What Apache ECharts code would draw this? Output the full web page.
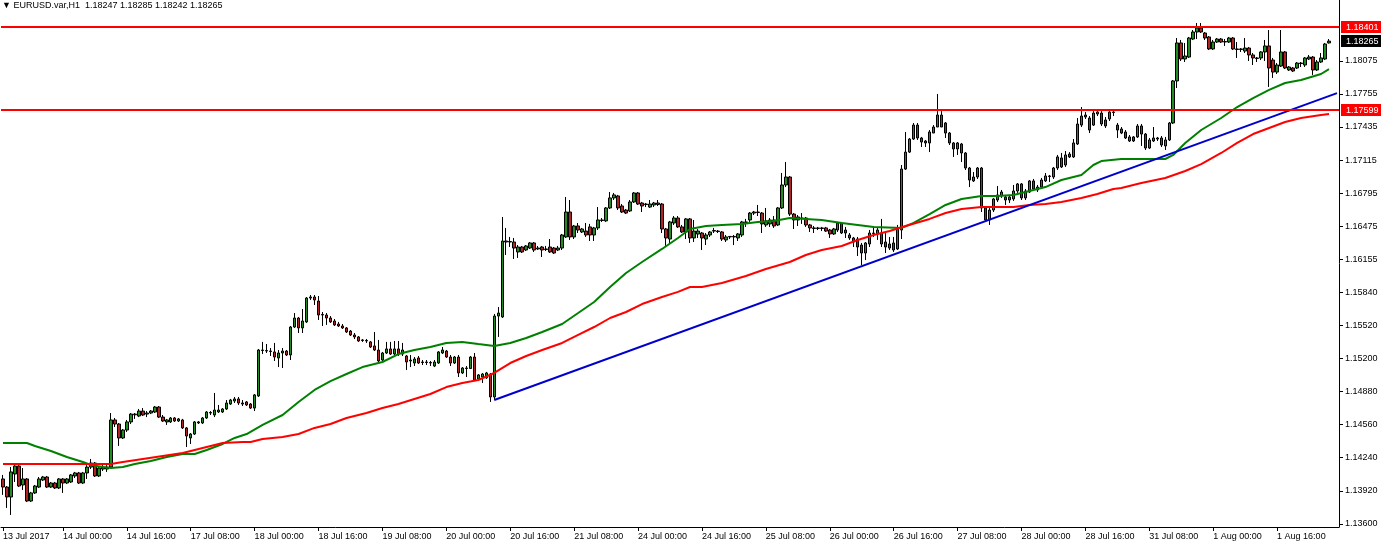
<!DOCTYPE html>
<html><head><meta charset="utf-8">
<script src="https://cdn.jsdelivr.net/npm/echarts@6/dist/echarts.min.js"></script>
<style>html,body{margin:0;padding:0;background:#fff}#c{width:1381px;height:545px}</style>
</head><body><div id="c"></div>
<script>
const headerText = '\u25BC EURUSD.var,H1  1.18247 1.18285 1.18242 1.18265';
// [open, close, low, high] per H1 bar, from 13 Jul 2017 09:00
const candles = [
[1.14035,1.13957,1.13881,1.14074],[1.13957,1.13861,1.13755,1.13967],[1.13861,1.14103,1.13687,1.14150],[1.14083,1.14160,1.14006,1.14170],
[1.14160,1.13967,1.13957,1.14170],[1.13977,1.14035,1.13929,1.14141],[1.14035,1.13822,1.13813,1.14044],[1.13822,1.13900,1.13813,1.13910],
[1.13900,1.13967,1.13890,1.13977],[1.13957,1.14035,1.13948,1.14054],[1.14025,1.14054,1.14015,1.14064],[1.14054,1.13957,1.13948,1.14064],
[1.13957,1.13996,1.13948,1.14006],[1.13996,1.13948,1.13938,1.14006],[1.13948,1.14035,1.13938,1.14044],[1.14035,1.13996,1.13900,1.14044],
[1.13996,1.14035,1.13986,1.14044],[1.14006,1.14074,1.13996,1.14083],[1.14064,1.14093,1.14044,1.14103],[1.14093,1.13996,1.13986,1.14103],
[1.13996,1.14093,1.13986,1.14103],[1.14093,1.14150,1.14035,1.14179],[1.14150,1.14189,1.14131,1.14228],[1.14189,1.14064,1.14054,1.14199],
[1.14064,1.14141,1.14054,1.14150],[1.14131,1.14150,1.14112,1.14170],[1.14131,1.14150,1.14103,1.14170],[1.14150,1.14605,1.14141,1.14672],
[1.14605,1.14566,1.14537,1.14624],[1.14566,1.14431,1.14354,1.14576],[1.14431,1.14508,1.14421,1.14518],[1.14508,1.14586,1.14489,1.14605],
[1.14586,1.14662,1.14566,1.14672],[1.14662,1.14655,1.14615,1.14672],[1.14643,1.14691,1.14633,1.14711],[1.14691,1.14653,1.14643,1.14720],
[1.14662,1.14672,1.14633,1.14691],[1.14672,1.14691,1.14662,1.14701],[1.14682,1.14730,1.14672,1.14740],[1.14730,1.14633,1.14624,1.14740],
[1.14633,1.14595,1.14586,1.14653],[1.14586,1.14605,1.14557,1.14615],[1.14586,1.14624,1.14576,1.14633],[1.14624,1.14595,1.14586,1.14633],
[1.14595,1.14615,1.14586,1.14624],[1.14605,1.14528,1.14518,1.14615],[1.14528,1.14450,1.14344,1.14537],[1.14431,1.14469,1.14373,1.14479],
[1.14469,1.14586,1.14460,1.14595],[1.14576,1.14586,1.14566,1.14595],[1.14576,1.14624,1.14566,1.14633],[1.14624,1.14682,1.14615,1.14691],
[1.14672,1.14677,1.14653,1.14691],[1.14653,1.14701,1.14633,1.14866],[1.14682,1.14701,1.14672,1.14750],[1.14682,1.14711,1.14672,1.14720],
[1.14711,1.14769,1.14701,1.14798],[1.14759,1.14798,1.14750,1.14808],[1.14788,1.14808,1.14769,1.14827],[1.14808,1.14769,1.14750,1.14827],
[1.14759,1.14769,1.14740,1.14798],[1.14779,1.14750,1.14740,1.14788],[1.14759,1.14720,1.14711,1.14769],[1.14720,1.14847,1.14691,1.14856],
[1.14837,1.15281,1.14827,1.15291],[1.15281,1.15276,1.15242,1.15359],[1.15276,1.15271,1.15252,1.15339],[1.15271,1.15266,1.15223,1.15300],
[1.15262,1.15213,1.15175,1.15349],[1.15204,1.15252,1.15116,1.15281],[1.15252,1.15271,1.15107,1.15300],[1.15271,1.15233,1.15223,1.15281],
[1.15233,1.15503,1.15184,1.15513],[1.15503,1.15590,1.15494,1.15638],[1.15590,1.15494,1.15445,1.15600],[1.15494,1.15561,1.15445,1.15677],
[1.15552,1.15783,1.15542,1.15793],[1.15783,1.15793,1.15764,1.15812],[1.15793,1.15764,1.15716,1.15812],[1.15754,1.15619,1.15571,1.15802],
[1.15619,1.15624,1.15513,1.15648],[1.15619,1.15590,1.15523,1.15638],[1.15590,1.15552,1.15542,1.15609],[1.15561,1.15523,1.15513,1.15580],
[1.15532,1.15513,1.15503,1.15552],[1.15513,1.15494,1.15484,1.15532],[1.15494,1.15455,1.15445,1.15503],[1.15464,1.15426,1.15416,1.15474],
[1.15426,1.15407,1.15387,1.15445],[1.15407,1.15368,1.15359,1.15416],[1.15378,1.15373,1.15359,1.15387],[1.15373,1.15368,1.15349,1.15387],
[1.15359,1.15310,1.15300,1.15368],[1.15320,1.15281,1.15271,1.15455],[1.15281,1.15175,1.15165,1.15378],[1.15184,1.15252,1.15165,1.15262],
[1.15252,1.15291,1.15242,1.15359],[1.15291,1.15242,1.15233,1.15359],[1.15242,1.15291,1.15223,1.15368],[1.15291,1.15242,1.15223,1.15368],
[1.15242,1.15281,1.15223,1.15349],[1.15223,1.15165,1.15088,1.15233],[1.15175,1.15184,1.15116,1.15233],[1.15155,1.15194,1.15126,1.15213],
[1.15204,1.15155,1.15146,1.15223],[1.15165,1.15160,1.15136,1.15184],[1.15160,1.15165,1.15136,1.15184],[1.15160,1.15155,1.15126,1.15175],
[1.15126,1.15165,1.15116,1.15184],[1.15155,1.15262,1.15146,1.15271],[1.15252,1.15281,1.15242,1.15310],[1.15271,1.15213,1.15204,1.15281],
[1.15213,1.15155,1.15126,1.15233],[1.15155,1.15213,1.15146,1.15223],[1.15213,1.15059,1.15020,1.15233],[1.15059,1.15107,1.15049,1.15116],
[1.15107,1.15102,1.15020,1.15126],[1.15102,1.15213,1.15097,1.15223],[1.15213,1.14991,1.14981,1.15252],[1.15001,1.15040,1.14991,1.15049],
[1.15020,1.15049,1.14962,1.15059],[1.15011,1.15059,1.15001,1.15069],[1.15049,1.14827,1.14779,1.15059],[1.14827,1.15609,1.14798,1.15629],
[1.15609,1.15638,1.15407,1.15696],[1.15600,1.16334,1.15590,1.16566],[1.16334,1.16324,1.16199,1.16460],[1.16324,1.16329,1.16276,1.16373],
[1.16324,1.16266,1.16160,1.16363],[1.16228,1.16276,1.16170,1.16295],[1.16276,1.16228,1.16218,1.16286],[1.16247,1.16286,1.16237,1.16295],
[1.16266,1.16315,1.16257,1.16324],[1.16315,1.16247,1.16228,1.16324],[1.16257,1.16266,1.16247,1.16286],[1.16276,1.16247,1.16179,1.16286],
[1.16252,1.16257,1.16237,1.16286],[1.16276,1.16228,1.16218,1.16353],[1.16266,1.16218,1.16208,1.16276],[1.16247,1.16266,1.16237,1.16286],
[1.16266,1.16392,1.16247,1.16402],[1.16373,1.16614,1.16363,1.16759],[1.16614,1.16373,1.16344,1.16730],[1.16373,1.16479,1.16353,1.16489],
[1.16479,1.16440,1.16411,1.16508],[1.16421,1.16450,1.16411,1.16460],[1.16430,1.16392,1.16373,1.16508],[1.16470,1.16392,1.16334,1.16499],
[1.16392,1.16460,1.16334,1.16470],[1.16460,1.16537,1.16440,1.16662],[1.16537,1.16532,1.16518,1.16556],[1.16528,1.16653,1.16518,1.16662],
[1.16653,1.16750,1.16643,1.16807],[1.16750,1.16779,1.16730,1.16798],[1.16769,1.16653,1.16633,1.16779],[1.16672,1.16614,1.16604,1.16691],
[1.16633,1.16604,1.16594,1.16643],[1.16624,1.16711,1.16614,1.16730],[1.16711,1.16798,1.16701,1.16807],[1.16798,1.16691,1.16682,1.16807],
[1.16701,1.16672,1.16614,1.16711],[1.16691,1.16686,1.16662,1.16701],[1.16662,1.16691,1.16653,1.16730],[1.16682,1.16701,1.16662,1.16711],
[1.16701,1.16686,1.16672,1.16730],[1.16691,1.16450,1.16411,1.16701],[1.16450,1.16363,1.16286,1.16460],[1.16353,1.16518,1.16315,1.16528],
[1.16508,1.16556,1.16489,1.16575],[1.16556,1.16470,1.16460,1.16575],[1.16470,1.16421,1.16411,1.16489],[1.16421,1.16547,1.16353,1.16556],
[1.16547,1.16363,1.16315,1.16556],[1.16363,1.16430,1.16324,1.16537],[1.16401,1.16430,1.16363,1.16450],[1.16411,1.16363,1.16247,1.16421],
[1.16353,1.16392,1.16295,1.16411],[1.16392,1.16421,1.16373,1.16430],[1.16430,1.16435,1.16411,1.16460],[1.16430,1.16425,1.16411,1.16440],
[1.16421,1.16353,1.16334,1.16430],[1.16344,1.16373,1.16324,1.16392],[1.16373,1.16378,1.16353,1.16382],[1.16378,1.16373,1.16295,1.16392],
[1.16363,1.16402,1.16334,1.16411],[1.16392,1.16518,1.16373,1.16528],[1.16518,1.16513,1.16470,1.16547],[1.16537,1.16604,1.16518,1.16614],
[1.16604,1.16614,1.16585,1.16624],[1.16614,1.16609,1.16575,1.16682],[1.16604,1.16499,1.16411,1.16614],[1.16489,1.16528,1.16470,1.16653],
[1.16499,1.16537,1.16470,1.16556],[1.16537,1.16479,1.16460,1.16575],[1.16489,1.16653,1.16479,1.16662],[1.16653,1.16875,1.16643,1.16991],
[1.16875,1.16952,1.16855,1.17097],[1.16952,1.16594,1.16575,1.16962],[1.16594,1.16537,1.16450,1.16604],[1.16566,1.16537,1.16479,1.16585],
[1.16556,1.16551,1.16499,1.16604],[1.16556,1.16489,1.16470,1.16566],[1.16489,1.16460,1.16421,1.16499],[1.16460,1.16455,1.16411,1.16479],
[1.16455,1.16460,1.16440,1.16470],[1.16460,1.16455,1.16430,1.16470],[1.16460,1.16430,1.16421,1.16470],[1.16440,1.16402,1.16363,1.16450],
[1.16402,1.16450,1.16392,1.16460],[1.16440,1.16508,1.16421,1.16518],[1.16508,1.16411,1.16402,1.16518],[1.16440,1.16411,1.16363,1.16470],
[1.16392,1.16363,1.16344,1.16411],[1.16363,1.16324,1.16276,1.16373],[1.16353,1.16276,1.16189,1.16373],[1.16295,1.16218,1.16102,1.16315],
[1.16218,1.16315,1.16150,1.16324],[1.16305,1.16411,1.16276,1.16440],[1.16411,1.16406,1.16373,1.16479],[1.16402,1.16440,1.16344,1.16460],
[1.16411,1.16305,1.16276,1.16547],[1.16324,1.16276,1.16218,1.16411],[1.16305,1.16266,1.16247,1.16373],[1.16315,1.16247,1.16228,1.16373],
[1.16257,1.16450,1.16247,1.16489],[1.16440,1.17029,1.16353,1.17068],[1.17029,1.17193,1.17020,1.17387],[1.17193,1.17319,1.17184,1.17329],
[1.17319,1.17454,1.17310,1.17474],[1.17454,1.17329,1.17310,1.17474],[1.17329,1.17290,1.17242,1.17339],[1.17300,1.17281,1.17242,1.17310],
[1.17281,1.17387,1.17193,1.17406],[1.17377,1.17435,1.17377,1.17454],[1.17435,1.17551,1.17435,1.17754],[1.17551,1.17435,1.17435,1.17590],
[1.17474,1.17377,1.17329,1.17483],[1.17377,1.17281,1.17261,1.17387],[1.17281,1.17223,1.17146,1.17290],[1.17223,1.17281,1.17165,1.17290],
[1.17271,1.17184,1.17097,1.17281],[1.17184,1.17039,1.17020,1.17193],[1.17039,1.16923,1.16855,1.17049],[1.16914,1.16952,1.16904,1.17000],
[1.16952,1.17039,1.16933,1.17049],[1.17039,1.16653,1.16614,1.17049],[1.16653,1.16537,1.16518,1.16662],[1.16537,1.16633,1.16489,1.16653],
[1.16633,1.16740,1.16614,1.16750],[1.16730,1.16779,1.16711,1.16865],[1.16769,1.16807,1.16750,1.16827],[1.16759,1.16730,1.16682,1.16779],
[1.16730,1.16759,1.16701,1.16779],[1.16740,1.16817,1.16721,1.16875],[1.16817,1.16885,1.16798,1.16894],[1.16885,1.16750,1.16730,1.16894],
[1.16750,1.16817,1.16730,1.16836],[1.16807,1.16914,1.16798,1.16923],[1.16914,1.16836,1.16817,1.16933],[1.16827,1.16855,1.16807,1.16875],
[1.16855,1.16923,1.16836,1.16943],[1.16914,1.16962,1.16904,1.16991],[1.16962,1.16957,1.16904,1.16972],[1.16952,1.17039,1.16933,1.17049],
[1.17039,1.17146,1.17020,1.17165],[1.17136,1.17049,1.17039,1.17184],[1.17068,1.17165,1.17049,1.17203],[1.17174,1.17146,1.17136,1.17193],
[1.17146,1.17281,1.17136,1.17319],[1.17271,1.17464,1.17261,1.17522],[1.17454,1.17541,1.17435,1.17628],[1.17551,1.17532,1.17513,1.17580],
[1.17522,1.17406,1.17377,1.17541],[1.17454,1.17570,1.17445,1.17609],[1.17561,1.17580,1.17541,1.17599],[1.17570,1.17464,1.17445,1.17590],
[1.17503,1.17445,1.17426,1.17532],[1.17513,1.17580,1.17493,1.17599],[1.17580,1.17575,1.17541,1.17590],[1.17454,1.17406,1.17329,1.17474],
[1.17416,1.17377,1.17367,1.17435],[1.17387,1.17329,1.17319,1.17406],[1.17300,1.17339,1.17290,1.17358],[1.17339,1.17300,1.17290,1.17348],
[1.17339,1.17445,1.17329,1.17464],[1.17445,1.17367,1.17252,1.17464],[1.17367,1.17232,1.17213,1.17377],[1.17232,1.17310,1.17223,1.17329],
[1.17300,1.17329,1.17290,1.17435],[1.17319,1.17329,1.17300,1.17339],[1.17329,1.17261,1.17242,1.17348],[1.17252,1.17310,1.17213,1.17339],
[1.17310,1.17474,1.17300,1.17483],[1.17474,1.17880,1.17464,1.17889],[1.17880,1.18247,1.17812,1.18295],[1.18247,1.18092,1.18073,1.18276],
[1.18092,1.18121,1.18063,1.18247],[1.18111,1.18295,1.18102,1.18305],[1.18285,1.18353,1.18276,1.18372],[1.18353,1.18392,1.18285,1.18440],
[1.18392,1.18353,1.18343,1.18440],[1.18343,1.18295,1.18276,1.18353],[1.18305,1.18189,1.18179,1.18314],[1.18189,1.18256,1.18179,1.18276],
[1.18256,1.18285,1.18247,1.18295],[1.18285,1.18256,1.18247,1.18295],[1.18256,1.18261,1.18218,1.18285],[1.18256,1.18295,1.18247,1.18305],
[1.18295,1.18189,1.18179,1.18305],[1.18189,1.18184,1.18102,1.18256],[1.18184,1.18189,1.18160,1.18198],[1.18169,1.18198,1.18150,1.18295],
[1.18198,1.18131,1.18073,1.18208],[1.18131,1.18102,1.18034,1.18150],[1.18102,1.18097,1.18063,1.18111],[1.18102,1.18160,1.18082,1.18169],
[1.18160,1.18218,1.18073,1.18276],[1.18218,1.18005,1.17822,1.18372],[1.18082,1.17966,1.17909,1.18102],[1.17966,1.18034,1.17947,1.18053],
[1.18024,1.18160,1.18015,1.18372],[1.18160,1.18005,1.17995,1.18169],[1.17986,1.18015,1.17976,1.18024],[1.18005,1.17976,1.17966,1.18015],
[1.18005,1.18053,1.17995,1.18063],[1.18053,1.18048,1.18015,1.18063],[1.18034,1.18102,1.18015,1.18111],[1.18092,1.18111,1.18082,1.18131],
[1.18111,1.17986,1.17938,1.18121],[1.17986,1.18063,1.17976,1.18082],[1.18063,1.18102,1.18053,1.18150],[1.18092,1.18237,1.18082,1.18247],
[1.18247,1.18265,1.18242,1.18285]
];
// moving averages: [bar index, value]
const maGreen = [[0,1.14383],[6,1.14383],[8,1.14354],[12,1.14305],[16,1.14247],[20,1.14199],[22,1.14170],[25,1.14150],[27,1.14141],[30,1.14150],[33,1.14179],[37,1.14208],[41,1.14247],[45,1.14276],[48,1.14276],[51,1.14315],[55,1.14373],[58,1.14431],[61,1.14469],[65,1.14557],[70,1.14653],[74,1.14779],[78,1.14895],[82,1.14981],[86,1.15049],[90,1.15116],[95,1.15165],[99,1.15242],[103,1.15281],[107,1.15310],[111,1.15349],[115,1.15359],[119,1.15339],[123,1.15320],[127,1.15349],[131,1.15397],[135,1.15455],[140,1.15532],[144,1.15638],[148,1.15745],[152,1.15889],[156,1.16025],[160,1.16131],[165,1.16257],[169,1.16363],[172,1.16450],[176,1.16479],[180,1.16489],[185,1.16499],[189,1.16518],[193,1.16528],[197,1.16556],[201,1.16547],[205,1.16537],[210,1.16508],[214,1.16489],[218,1.16470],[225,1.16460],[228,1.16508],[232,1.16594],[236,1.16682],[240,1.16740],[245,1.16769],[249,1.16769],[253,1.16779],[257,1.16817],[261,1.16855],[265,1.16923],[270,1.16972],[273,1.17068],[275,1.17106],[280,1.17126],[291,1.17126],[293,1.17165],[296,1.17281],[300,1.17406],[305,1.17522],[309,1.17628],[313,1.17715],[317,1.17793],[321,1.17860],[325,1.17889],[330,1.17947],[332,1.17995]];
const maRed = [[0,1.14179],[27,1.14179],[30,1.14199],[35,1.14228],[40,1.14257],[45,1.14286],[50,1.14335],[55,1.14383],[60,1.14393],[62,1.14393],[65,1.14421],[70,1.14440],[74,1.14469],[78,1.14528],[82,1.14566],[86,1.14624],[91,1.14672],[95,1.14721],[99,1.14759],[103,1.14808],[107,1.14856],[111,1.14923],[115,1.14962],[119,1.14991],[123,1.15059],[127,1.15155],[131,1.15223],[135,1.15281],[140,1.15349],[144,1.15426],[148,1.15503],[152,1.15590],[156,1.15648],[160,1.15725],[165,1.15793],[169,1.15842],[172,1.15889],[175,1.15889],[180,1.15928],[186,1.15996],[191,1.16063],[197,1.16131],[201,1.16199],[205,1.16247],[210,1.16286],[214,1.16344],[218,1.16392],[222,1.16430],[226,1.16479],[232,1.16547],[236,1.16604],[240,1.16643],[245,1.16662],[249,1.16662],[253,1.16662],[257,1.16682],[261,1.16691],[265,1.16711],[270,1.16750],[274,1.16788],[278,1.16836],[280,1.16846],[285,1.16894],[291,1.16943],[296,1.17010],[300,1.17077],[305,1.17184],[309,1.17281],[313,1.17367],[317,1.17426],[321,1.17484],[325,1.17522],[330,1.17551],[332,1.17560]];
const trendLine = [[123,1.14798],[334,1.17762]];
const levels = [1.18401, 1.17599];
const lastPrice = 1.18265;
const yTickValues = [1.136,1.1392,1.1424,1.1456,1.1488,1.152,1.1552,1.1584,1.16155,1.16475,1.16795,1.17115,1.17435,1.17755,1.18075];
const xTicks = [[0,'13 Jul 2017'],[15,'14 Jul 00:00'],[31,'14 Jul 16:00'],[47,'17 Jul 08:00'],[63,'18 Jul 00:00'],[79,'18 Jul 16:00'],[95,'19 Jul 08:00'],[111,'20 Jul 00:00'],[127,'20 Jul 16:00'],[143,'21 Jul 08:00'],[159,'24 Jul 00:00'],[175,'24 Jul 16:00'],[191,'25 Jul 08:00'],[207,'26 Jul 00:00'],[223,'26 Jul 16:00'],[239,'27 Jul 08:00'],[255,'28 Jul 00:00'],[271,'28 Jul 16:00'],[287,'31 Jul 08:00'],[303,'1 Aug 00:00'],[319,'1 Aug 16:00']];
const emptySlots = 2;

const FONT = 'Liberation Sans';
const slotCount = candles.length + emptySlots;
const categories = [];
for (let i = 0; i < slotCount; i++) categories.push(String(i));
const xTickMap = {};
xTicks.forEach(function (t) { xTickMap[t[0]] = t[1]; });
const isTick = function (i) { return xTickMap[i] !== undefined; };

const chart = echarts.init(document.getElementById('c'), null, { renderer: 'canvas' });
const levelLabel = function (bg) {
  return { show: true, position: 'end', distance: 2, padding: [2, 5, 1, 5], backgroundColor: bg, color: '#fff',
    fontFamily: FONT, fontSize: 9, formatter: function (p) { return Number(p.value).toFixed(5); } };
};
chart.setOption({
  animation: false,
  backgroundColor: '#ffffff',
  graphic: [{ type: 'text', left: 2, top: 1, style: { text: headerText, font: '9px "' + FONT + '"', fill: '#000' } }],
  grid: { left: -1, right: 42, top: 0, bottom: 18, containLabel: false },
  xAxis: {
    type: 'category', data: categories, boundaryGap: true,
    axisLine: { show: true, lineStyle: { color: '#000', width: 1 } },
    axisTick: { show: true, alignWithLabel: true, length: 4, interval: isTick, lineStyle: { color: '#000' } },
    axisLabel: { interval: isTick, formatter: function (v, i) { return xTickMap[i] || ''; }, align: 'left', margin: 5,
      fontFamily: FONT, fontSize: 9, color: '#000' },
    splitLine: { show: false }
  },
  yAxis: {
    type: 'value', position: 'right', min: 1.13571, max: 1.18662,
    axisLine: { show: true, lineStyle: { color: '#000', width: 1 } },
    axisTick: { show: true, length: 4, customValues: yTickValues, lineStyle: { color: '#000' } },
    axisLabel: { customValues: yTickValues, formatter: function (v) { return v.toFixed(5); }, margin: 6,
      fontFamily: FONT, fontSize: 9, color: '#000' },
    splitLine: { show: false }
  },
  series: [
    { type: 'candlestick', data: candles, barWidth: 3, z: 2,
      itemStyle: { color: '#228b22', color0: '#b22222', borderColor: '#000', borderColor0: '#000', borderWidth: 1 } },
    { type: 'line', data: maGreen, symbol: 'none', z: 3, lineStyle: { color: '#008000', width: 2 } },
    { type: 'line', data: maRed, symbol: 'none', z: 3, lineStyle: { color: '#ff0000', width: 2 } },
    { type: 'line', data: trendLine, symbol: 'none', z: 4, lineStyle: { color: '#0000cd', width: 2 },
      markLine: { silent: true, symbol: ['none', 'none'], animation: false, precision: 5,
        data: [
          { yAxis: levels[0], lineStyle: { color: '#ff0000', width: 2, type: 'solid' }, label: levelLabel('#ff0000') },
          { yAxis: levels[1], lineStyle: { color: '#ff0000', width: 2, type: 'solid' }, label: levelLabel('#ff0000') },
          { yAxis: lastPrice, lineStyle: { color: 'rgba(0,0,0,0)', width: 1, type: 'solid' }, label: levelLabel('#000000') }
        ] } }
  ]
});
</script></body></html>
